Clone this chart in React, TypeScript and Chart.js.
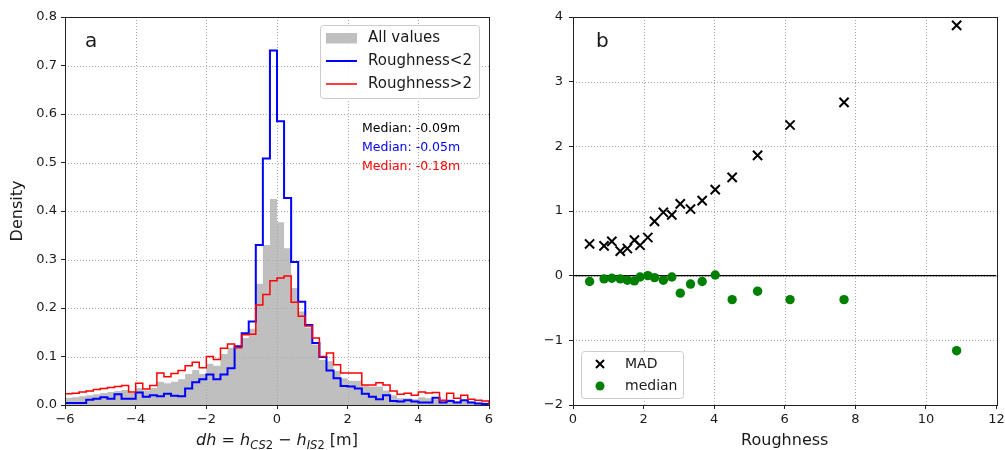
import React, { useEffect, useRef } from "react";
import { Chart, registerables } from "chart.js";
Chart.register(...registerables);

const FONT = "DejaVu Sans";
const TEXT = "#1a1a1a";

// ---- Panel a: histogram data (bins of 0.2 m from -6 to 6) ----
const BIN_START = -6;
const BIN_WIDTH = 0.2;

const allValues = [
  0.015, 0.016, 0.018, 0.02, 0.022, 0.025, 0.027, 0.029, 0.031, 0.025,
  0.035, 0.03, 0.035, 0.048, 0.045, 0.048, 0.053, 0.064, 0.072, 0.064,
  0.085, 0.081, 0.105, 0.118, 0.118, 0.138, 0.157, 0.25, 0.33, 0.425,
  0.377, 0.323, 0.241, 0.193, 0.16, 0.125, 0.093, 0.09, 0.07, 0.055,
  0.05, 0.05, 0.04, 0.038, 0.038, 0.03, 0.02, 0.014, 0.014, 0.012,
  0.016, 0.014, 0.012, 0.008, 0.012, 0.008, 0.01, 0.007, 0.005, 0.005,
];

const roughLow = [
  0.004, 0.004, 0.004, 0.011, 0.013, 0.016, 0.013, 0.022, 0.013, 0.013,
  0.026, 0.017, 0.02, 0.018, 0.023, 0.019, 0.018, 0.034, 0.047, 0.053,
  0.063, 0.053, 0.063, 0.076, 0.121, 0.148, 0.172, 0.33, 0.508, 0.731,
  0.585, 0.427, 0.295, 0.213, 0.165, 0.128, 0.099, 0.071, 0.055, 0.039,
  0.038, 0.034, 0.023, 0.017, 0.012, 0.02, 0.008, 0.007, 0.01, 0.007,
  0.005, 0.005, 0.015, 0.005, 0.008, 0.005, 0.01, 0.005, 0.003, 0.002,
];

const roughHigh = [
  0.023, 0.024, 0.027, 0.029, 0.032, 0.034, 0.036, 0.038, 0.04, 0.027,
  0.045, 0.033, 0.04, 0.066, 0.058, 0.065, 0.071, 0.081, 0.088, 0.077,
  0.1, 0.094, 0.117, 0.126, 0.118, 0.145, 0.146, 0.206, 0.228, 0.256,
  0.262, 0.266, 0.212, 0.183, 0.163, 0.138, 0.1, 0.107, 0.083, 0.066,
  0.066, 0.066, 0.041, 0.041, 0.046, 0.041, 0.029, 0.022, 0.024, 0.02,
  0.027, 0.025, 0.026, 0.01, 0.024, 0.014, 0.02, 0.012, 0.01, 0.008,
];

const histLegend = ["All values", "Roughness<2", "Roughness>2"];
const medianTexts = ["Median: -0.09m", "Median: -0.05m", "Median: -0.18m"];
const medianColors = ["#000000", "#0000ff", "#ff0000"];

// ---- Panel b: roughness statistics ----
const roughness = [0.47, 0.88, 1.1, 1.34, 1.54, 1.74, 1.9, 2.12, 2.31, 2.56, 2.8, 3.04, 3.33, 3.66, 4.03, 4.51, 5.23, 6.15, 7.68, 10.87];
const mad = [0.49, 0.46, 0.53, 0.38, 0.42, 0.55, 0.47, 0.59, 0.84, 0.98, 0.94, 1.11, 1.03, 1.16, 1.33, 1.52, 1.86, 2.33, 2.68, 3.87];
const medianDh = [-0.09, -0.05, -0.04, -0.05, -0.07, -0.08, -0.02, 0.0, -0.03, -0.07, -0.02, -0.27, -0.13, -0.09, 0.01, -0.37, -0.24, -0.37, -0.37, -1.16];
const scatterLegend = ["MAD", "median"];

function stepPoints(values: number[]) {
  const pts: { x: number; y: number }[] = [{ x: BIN_START, y: 0 }];
  values.forEach((v, i) => {
    const x0 = BIN_START + i * BIN_WIDTH;
    pts.push({ x: x0, y: v }, { x: x0 + BIN_WIDTH, y: v });
  });
  pts.push({ x: BIN_START + values.length * BIN_WIDTH, y: 0 });
  return pts;
}

const fmtMinus = (v: number, d: number) => v.toFixed(d).replace("-", "\u2212");

function drawDottedGrid(chart: any) {
  const ctx = chart.ctx;
  const a = chart.chartArea;
  const xs = chart.scales.x;
  const ys = chart.scales.y;
  ctx.save();
  ctx.strokeStyle = "#a8a8a8";
  ctx.lineWidth = 1;
  ctx.setLineDash([1, 2]);
  xs.ticks.forEach((t: any) => {
    const px = Math.round(xs.getPixelForValue(t.value)) + 0.5;
    if (px <= a.left + 1 || px >= a.right - 1) return;
    ctx.beginPath();
    ctx.moveTo(px, a.top);
    ctx.lineTo(px, a.bottom);
    ctx.stroke();
  });
  ys.ticks.forEach((t: any) => {
    const py = Math.round(ys.getPixelForValue(t.value)) + 0.5;
    if (py <= a.top + 1 || py >= a.bottom - 1) return;
    ctx.beginPath();
    ctx.moveTo(a.left, py);
    ctx.lineTo(a.right, py);
    ctx.stroke();
  });
  ctx.restore();
}

function drawFrame(chart: any) {
  const ctx = chart.ctx;
  const a = chart.chartArea;
  ctx.save();
  ctx.strokeStyle = "#222";
  ctx.lineWidth = 1;
  ctx.strokeRect(Math.round(a.left) + 0.5, Math.round(a.top) + 0.5, Math.round(a.right - a.left), Math.round(a.bottom - a.top));
  ctx.restore();
}

function legendBox(ctx: CanvasRenderingContext2D, x: number, y: number, w: number, h: number) {
  ctx.save();
  ctx.beginPath();
  (ctx as any).roundRect(x + 0.5, y + 0.5, w, h, 3);
  ctx.fillStyle = "rgba(255,255,255,0.85)";
  ctx.fill();
  ctx.strokeStyle = "#cccccc";
  ctx.lineWidth = 1;
  ctx.stroke();
  ctx.restore();
}

function drawMathTitle(ctx: CanvasRenderingContext2D, cx: number, baseline: number) {
  const size = 16;
  const sub = 11.5;
  const it = `italic ${size}px "${FONT}"`;
  const rm = `${size}px "${FONT}"`;
  const itS = `italic ${sub}px "${FONT}"`;
  const rmS = `${sub}px "${FONT}"`;
  const segs = [
    { t: "dh", f: it, dy: 0 },
    { t: " = ", f: rm, dy: 0 },
    { t: "h", f: it, dy: 0 },
    { t: "CS", f: itS, dy: 4 },
    { t: "2", f: rmS, dy: 4 },
    { t: " \u2212 ", f: rm, dy: 0 },
    { t: "h", f: it, dy: 0 },
    { t: "IS", f: itS, dy: 4 },
    { t: "2", f: rmS, dy: 4 },
    { t: " [m]", f: rm, dy: 0 },
  ];
  ctx.save();
  ctx.fillStyle = TEXT;
  ctx.textBaseline = "alphabetic";
  ctx.textAlign = "left";
  let total = 0;
  const widths = segs.map((s) => {
    ctx.font = s.f;
    const w = ctx.measureText(s.t).width;
    total += w;
    return w;
  });
  let x = cx - total / 2;
  segs.forEach((s, i) => {
    ctx.font = s.f;
    ctx.fillText(s.t, x, baseline + s.dy);
    x += widths[i];
  });
  ctx.restore();
}

const histPlugin = {
  id: "histDecor",
  afterDatasetDraw(chart: any, args: any) {
    if (args.index === 2) drawDottedGrid(chart);
  },
  afterDraw(chart: any) {
    const ctx = chart.ctx as CanvasRenderingContext2D;
    const a = chart.chartArea;
    drawFrame(chart);
    ctx.save();
    ctx.fillStyle = TEXT;
    ctx.font = `20px "${FONT}"`;
    ctx.textBaseline = "middle";
    ctx.textAlign = "left";
    ctx.fillText("a", 85, 42);
    // legend
    legendBox(ctx, 320, 25, 159, 73);
    ctx.fillStyle = "#bfbfbf";
    ctx.fillRect(326, 33, 31, 10.5);
    ctx.lineWidth = 2;
    ctx.strokeStyle = "#0000ff";
    ctx.beginPath();
    ctx.moveTo(326, 61);
    ctx.lineTo(357, 61);
    ctx.stroke();
    ctx.lineWidth = 1.5;
    ctx.strokeStyle = "#ff0000";
    ctx.beginPath();
    ctx.moveTo(326, 84);
    ctx.lineTo(357, 84);
    ctx.stroke();
    ctx.fillStyle = TEXT;
    ctx.font = `15px "${FONT}"`;
    ctx.fillText(histLegend[0], 368, 38.5);
    ctx.fillText(histLegend[1], 368, 61.5);
    ctx.fillText(histLegend[2], 368, 84.5);
    // medians
    ctx.font = `12.5px "${FONT}"`;
    medianTexts.forEach((t, i) => {
      ctx.fillStyle = medianColors[i];
      ctx.fillText(t, 362, 128.5 + i * 19.3);
    });
    // y title
    ctx.fillStyle = TEXT;
    ctx.font = `16px "${FONT}"`;
    ctx.translate(18, (a.top + a.bottom) / 2);
    ctx.rotate(-Math.PI / 2);
    ctx.textAlign = "center";
    ctx.fillText("Density", 0, 0);
    ctx.restore();
    drawMathTitle(ctx, (a.left + a.right) / 2, 445);
  },
};

const scatterPlugin = {
  id: "scatterDecor",
  beforeDatasetsDraw(chart: any) {
    drawDottedGrid(chart);
  },
  afterDraw(chart: any) {
    const ctx = chart.ctx as CanvasRenderingContext2D;
    const a = chart.chartArea;
    drawFrame(chart);
    ctx.save();
    ctx.fillStyle = TEXT;
    ctx.font = `20px "${FONT}"`;
    ctx.textBaseline = "middle";
    ctx.textAlign = "left";
    ctx.fillText("b", 96, 42);
    // legend
    legendBox(ctx, 81, 351, 102, 47);
    ctx.strokeStyle = "#000";
    ctx.lineWidth = 2;
    ctx.beginPath();
    ctx.moveTo(96, 360);
    ctx.lineTo(104, 368);
    ctx.moveTo(104, 360);
    ctx.lineTo(96, 368);
    ctx.stroke();
    ctx.fillStyle = "#008000";
    ctx.beginPath();
    ctx.arc(100, 386, 4.5, 0, Math.PI * 2);
    ctx.fill();
    ctx.fillStyle = TEXT;
    ctx.font = `14px "${FONT}"`;
    ctx.fillText(scatterLegend[0], 125, 364.5);
    ctx.fillText(scatterLegend[1], 125, 386.5);
    // x title
    ctx.font = `16px "${FONT}"`;
    ctx.textAlign = "center";
    ctx.textBaseline = "alphabetic";
    ctx.fillText("Roughness", (a.left + a.right) / 2, 445);
    ctx.restore();
  },
};

const tickFont = { family: FONT, size: 13 };

const fitX = (s: any) => {
  s.height = 45;
  s.paddingLeft = 0;
  s.paddingRight = 0;
};

export default function App() {
  const leftRef = useRef<HTMLCanvasElement>(null);
  const rightRef = useRef<HTMLCanvasElement>(null);

  useEffect(() => {
    document.body.style.margin = "0";
    const left = new Chart(leftRef.current as HTMLCanvasElement, {
      type: "line",
      data: {
        datasets: [
          { label: histLegend[2], data: stepPoints(roughHigh), borderColor: "#ff0000", borderWidth: 1.5, pointRadius: 0, fill: false, tension: 0 },
          { label: histLegend[1], data: stepPoints(roughLow), borderColor: "#0000ff", borderWidth: 2, pointRadius: 0, fill: false, tension: 0 },
          { label: histLegend[0], data: stepPoints(allValues), borderColor: "rgba(0,0,0,0)", borderWidth: 0, backgroundColor: "#bfbfbf", pointRadius: 0, fill: "origin", tension: 0 },
        ],
      } as any,
      options: {
        animation: false,
        responsive: false,
        devicePixelRatio: 1,
        events: [],
        layout: { padding: { top: 17, right: 11, left: 0, bottom: 0 } },
        plugins: { legend: { display: false }, tooltip: { enabled: false } },
        scales: {
          x: {
            type: "linear",
            min: -6,
            max: 6,
            ticks: { stepSize: 2, font: tickFont, color: TEXT, padding: 3, maxRotation: 0, callback: (v: any) => fmtMinus(Number(v), 0) },
            grid: { drawOnChartArea: false, drawTicks: true, tickLength: 4, tickColor: "#222" },
            border: { display: false },
            afterFit: fitX,
          },
          y: {
            type: "linear",
            min: 0,
            max: 0.8,
            ticks: { stepSize: 0.1, font: tickFont, color: TEXT, padding: 4, callback: (v: any) => Number(v).toFixed(1) },
            grid: { drawOnChartArea: false, drawTicks: true, tickLength: 4, tickColor: "#222" },
            border: { display: false },
            afterFit: (s: any) => { s.width = 65; },
          },
        },
      } as any,
      plugins: [histPlugin],
    });

    const right = new Chart(rightRef.current as HTMLCanvasElement, {
      type: "scatter",
      data: {
        datasets: [
          { label: scatterLegend[0], data: roughness.map((x, i) => ({ x, y: mad[i] })), pointStyle: "crossRot", pointRadius: 6.5, borderColor: "#000", backgroundColor: "#000", borderWidth: 2 },
          { label: scatterLegend[1], data: roughness.map((x, i) => ({ x, y: medianDh[i] })), pointStyle: "circle", pointRadius: 4.7, borderColor: "#008000", backgroundColor: "#008000", borderWidth: 0 },
          { label: "zero", data: [{ x: 0, y: 0 }, { x: 12, y: 0 }], showLine: true, borderColor: "#000", borderWidth: 1.3, pointRadius: 0 },
        ],
      } as any,
      options: {
        animation: false,
        responsive: false,
        devicePixelRatio: 1,
        events: [],
        layout: { padding: { top: 17, right: 8, left: 0, bottom: 0 } },
        plugins: { legend: { display: false }, tooltip: { enabled: false } },
        scales: {
          x: {
            type: "linear",
            min: 0,
            max: 12,
            ticks: { stepSize: 2, font: tickFont, color: TEXT, padding: 3, maxRotation: 0, callback: (v: any) => fmtMinus(Number(v), 0) },
            grid: { drawOnChartArea: false, drawTicks: true, tickLength: 4, tickColor: "#222" },
            border: { display: false },
            afterFit: fitX,
          },
          y: {
            type: "linear",
            min: -2,
            max: 4,
            ticks: { stepSize: 1, font: tickFont, color: TEXT, padding: 6, callback: (v: any) => fmtMinus(Number(v), 0) },
            grid: { drawOnChartArea: false, drawTicks: true, tickLength: 4, tickColor: "#222" },
            border: { display: false },
            afterFit: (s: any) => { s.width = 73; },
          },
        },
      } as any,
      plugins: [scatterPlugin],
    });

    return () => {
      left.destroy();
      right.destroy();
    };
  }, []);

  return (
    <div style={{ position: "absolute", left: 0, top: 0, width: 1005, height: 450, background: "#fff" }}>
      <canvas ref={leftRef} width={500} height={450} style={{ position: "absolute", left: 0, top: 0, width: 500, height: 450 }} />
      <canvas ref={rightRef} width={505} height={450} style={{ position: "absolute", left: 500, top: 0, width: 505, height: 450 }} />
    </div>
  );
}
